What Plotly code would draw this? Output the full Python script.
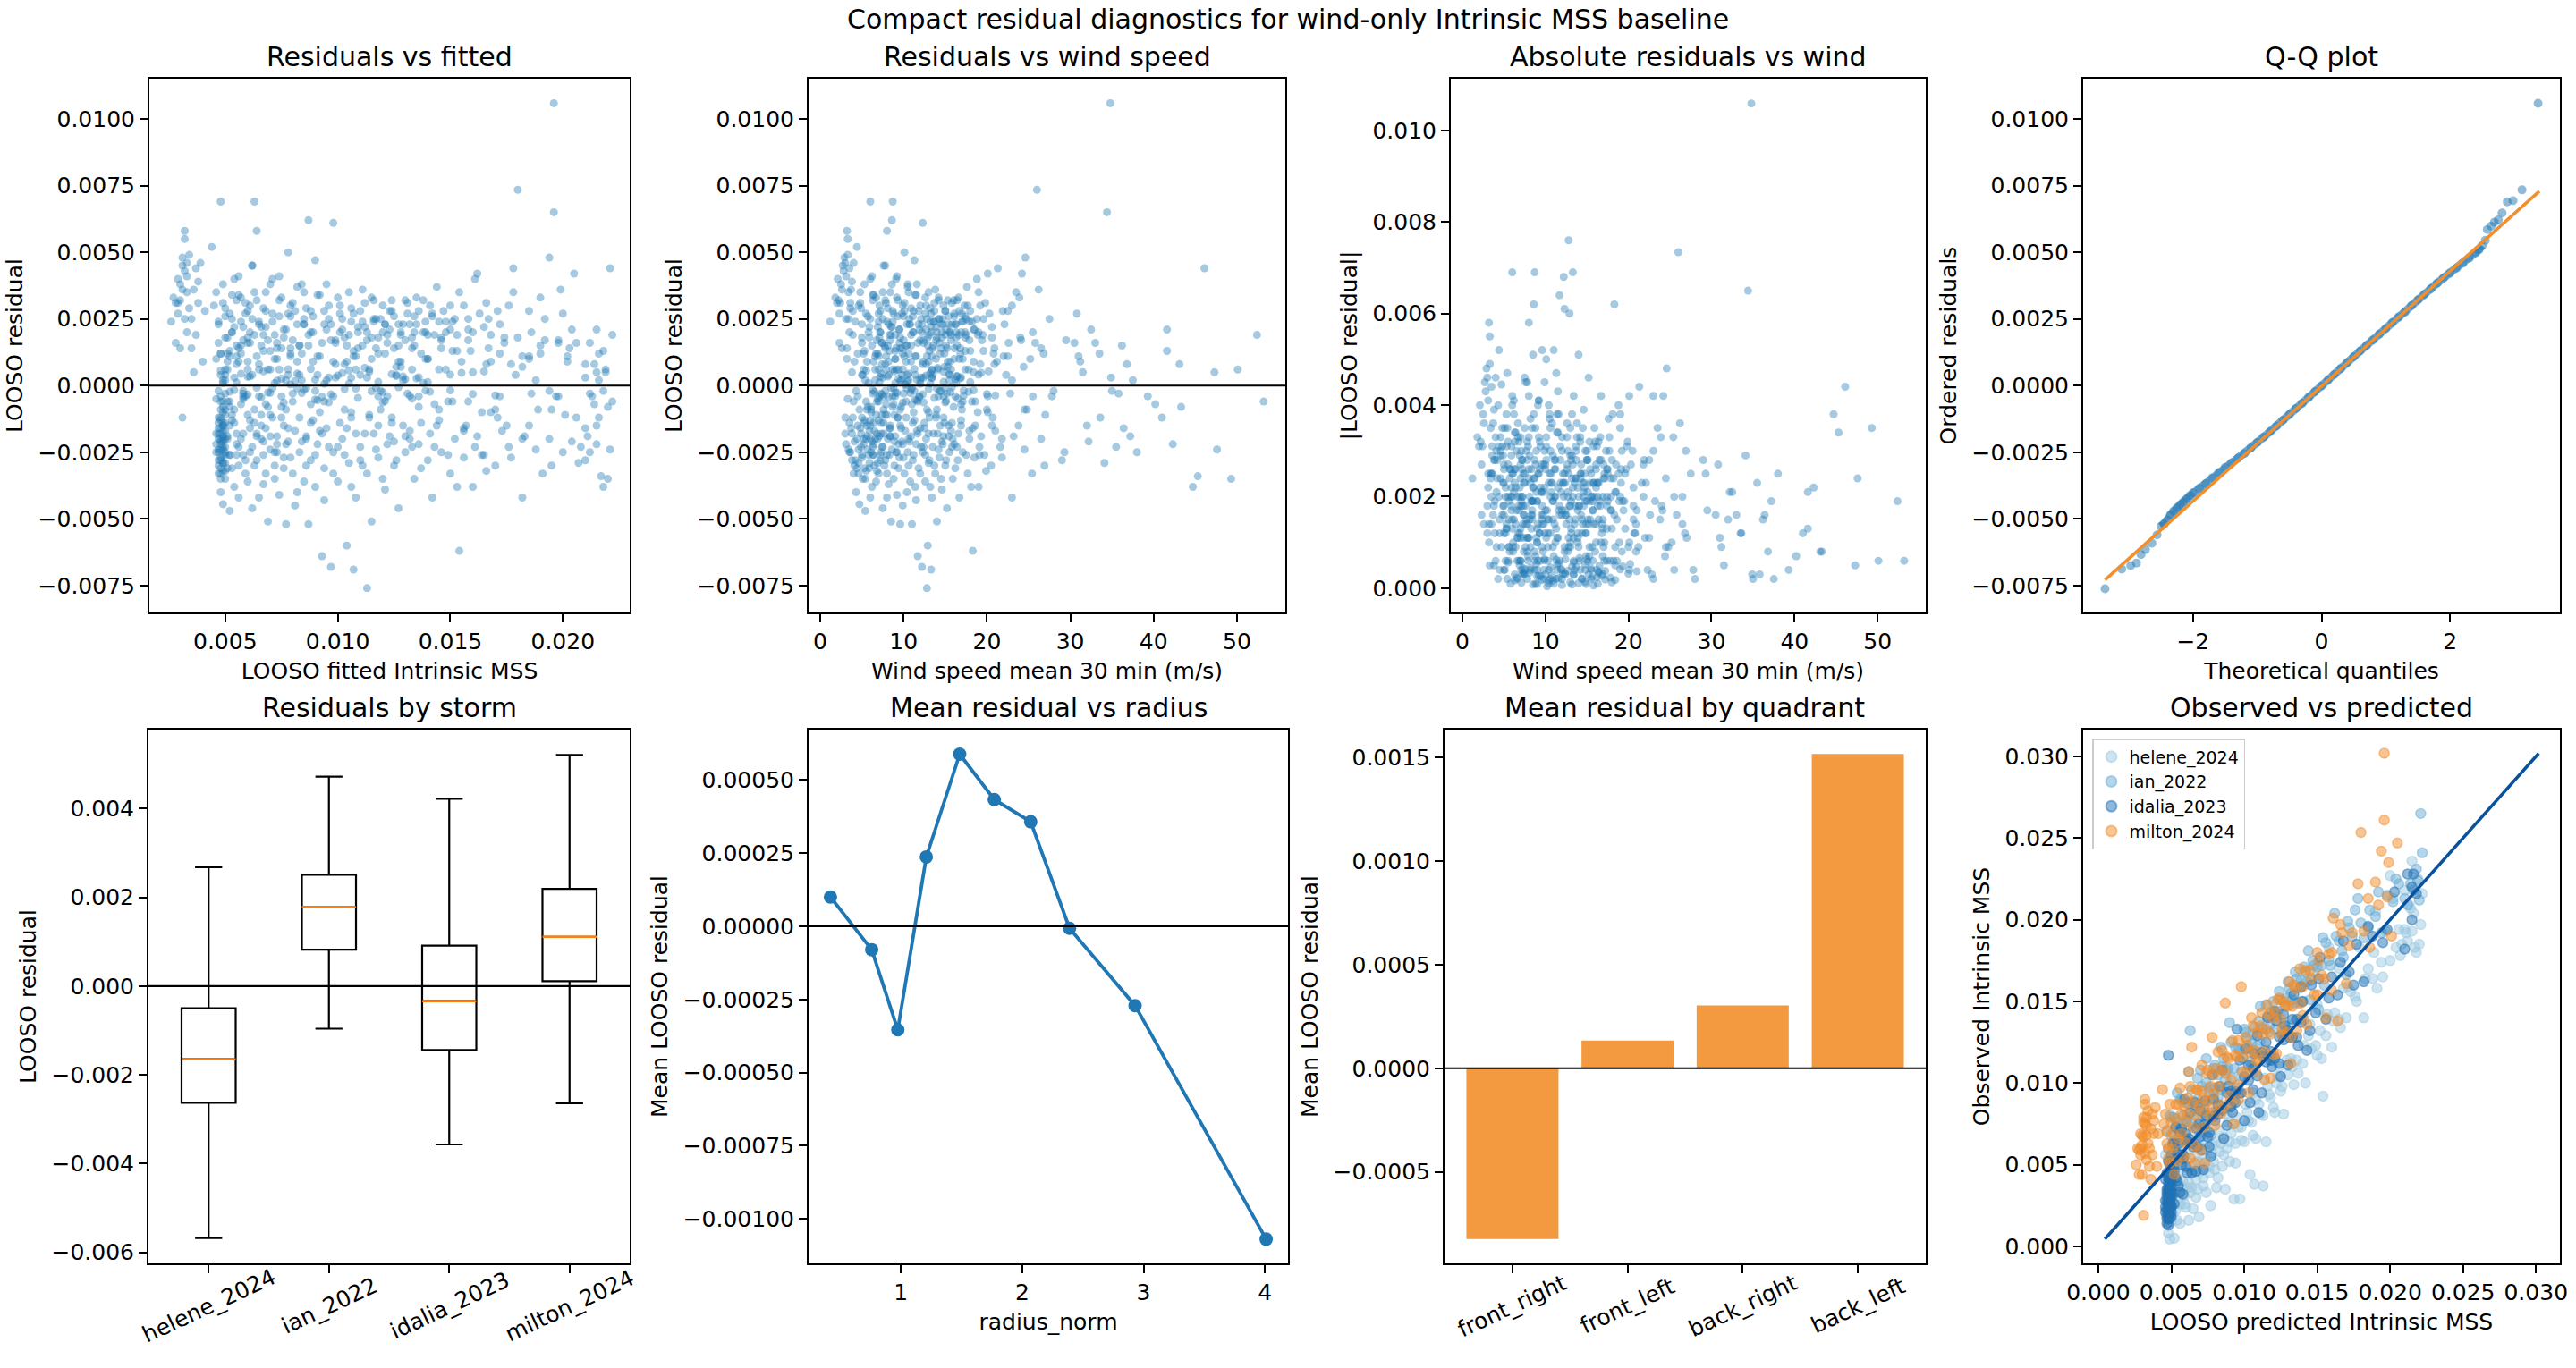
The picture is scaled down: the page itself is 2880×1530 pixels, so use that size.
import plotly.graph_objects as go

# ---------------- data ----------------
# per-storm points: (LOOSO fitted Intrinsic MSS x1e-4, LOOSO residual x1e-5, wind speed m/s)
helene_points = [
    (46,100,3.2),(47,-250,3.5),(47,-180,3.8),(48,-330,4.0),(48,-210,4.1),(48,-400,4.3),(49,-150,4.5),(49,-290,4.6),
    (49,-445,4.7),(50,-230,4.9),(50,-350,5.1),(50,40,5.0),(51,-310,5.3),(51,-200,5.5),(52,-470,5.4),(52,-260,5.8),
    (53,-130,6.0),(54,-380,6.2),(55,-220,6.4),(56,-300,6.5),
    (58,-180,6.8),(59,-330,7.0),(60,180,7.1),(61,-250,7.3),(62,-460,7.5),(63,-140,7.6),(64,-280,7.8),(65,60,7.9),
    (66,-200,8.1),(67,-370,8.2),(68,-160,8.4),(69,-510,8.5),(70,-240,8.6),(71,-10,8.8),(72,-300,8.9),(73,-190,9.0),
    (74,-410,9.2),(75,-120,9.3),(76,-270,9.5),(77,-520,9.6),(78,-210,9.8),(79,120,9.9),(80,-330,10.1),(81,-170,10.2),
    (82,-400,10.4),(83,-250,10.5),(84,20,10.6),(85,-360,10.8),(86,-190,10.9),(87,-520,11.0),(88,-280,11.1),(89,-130,11.3),
    (90,-380,11.4),(91,-220,11.5),(93,-640,11.7),(94,-310,11.8),(95,-160,12.0),(97,-680,12.2),(98,-250,12.3),(99,30,12.4),
    (100,-360,12.6),(102,-200,12.7),(104,-600,12.9),(105,-290,13.0),(106,-120,13.1),(107,-690,13.3),(108,-420,13.4),
    (110,-230,13.5),(111,150,13.6),(113,-760,12.8),(113,-330,13.8),(115,-510,14.0),(116,-180,14.1),(118,-270,14.3),
    (119,-20,14.4),(121,-390,14.6),(122,-220,14.7),(124,-140,14.9),(125,-300,15.0),(127,-460,15.2),(128,90,15.3),
    (130,-250,15.5),(132,-170,15.7),(134,-350,15.9),(136,-220,16.1),(138,10,16.3),(140,-280,16.5),(142,-420,16.7),
    (144,-150,16.9),(146,-250,17.1),(148,200,17.4),(150,-330,17.7),(152,-200,17.9),(154,-620,18.3),(156,-270,18.5),
    (158,250,18.8),(160,-380,19.0),(162,-190,19.3),(165,-260,19.7),(168,-100,20.1),(170,-300,20.5),(173,-170,21.0),
    (176,-230,21.6),(179,40,22.3),(182,-420,23.0),(185,-150,23.8),(188,-240,24.5),(191,-330,25.4),(194,-200,26.5),
    (197,-40,27.8),(200,-250,29.3),(202,110,31.0),(204,-210,32.2),(206,-120,33.6),(208,-230,35.5),(210,-160,36.4),
    (212,-250,38.0),(214,-70,40.2),(215,-220,42.3),(217,-340,45.3),(218,-380,44.7),(219,60,50.1),(220,-350,49.3),
    (221,-240,47.6),(190,150,36.2),(210,80,43.1),(200,270,30.8),(215,210,41.6),(222,-60,53.2),
    (52,-150,5.6),(53,-310,5.9),(54,-90,6.1),(55,-260,6.3),(56,-420,6.0),(57,-200,6.6),(58,-50,6.9),(59,-280,7.2),
    (60,-360,6.7),(61,-130,7.0),(62,-230,7.4),(63,-300,7.7),(64,-180,7.3),(65,-420,8.0),(66,-110,7.8),(67,-260,8.3),
    (68,-330,8.0),(69,-80,8.7),(70,-190,8.4),(72,-350,8.8),(73,-250,9.1),(75,-40,9.0),(76,-310,9.4),(78,-160,9.7),
    (79,-270,10.0),(81,-450,9.9),(83,-120,10.3),(84,-210,10.7),(86,-300,10.6),(88,-70,11.0),(90,-260,11.2),
    (92,-170,11.6),(94,-430,11.5),(96,-230,12.1),(98,-330,12.0),(101,-140,12.5),(103,-260,12.6),(106,-380,13.2),
    (108,-180,13.0),(111,-300,13.7),(114,-110,13.9),(117,-240,14.2),(120,-350,14.5),(123,-190,14.8),(126,-280,15.1),
    (129,-150,15.4),(133,-230,15.8),(137,-310,16.2),(141,-180,16.6),(145,-90,17.0),(149,-260,17.5),(153,-380,18.1),
    (157,-150,18.6),(161,-230,19.1),(166,-320,19.9),(171,-120,20.7),(177,-270,21.8),(183,-190,23.2),(189,-90,24.8),
    (195,-300,26.9),(211,-190,37.2),(216,-120,41.0),(207,-290,34.1),(213,-40,39.3),
    (60,-34,7.4),(75,26,9.4),(90,-52,11.4),(105,8,13.2),(120,-63,15.0),(135,27,16.8),(150,-18,18.4),(165,53,20.2),
]
ian_points = [
    (47,240,4.2),(48,120,4.5),(49,310,4.8),(50,180,5.0),(51,60,5.2),(52,270,5.5),(53,200,5.8),(54,400,6.0),
    (55,150,6.2),(56,90,6.4),(57,330,6.7),(58,220,6.9),(59,-40,7.1),(60,280,7.2),(61,160,7.4),(62,450,7.6),
    (63,690,8.7),(64,110,7.9),(65,240,8.0),(67,190,8.3),(68,350,8.4),(70,60,8.7),(71,270,8.8),(73,140,9.1),
    (74,410,9.2),(76,210,9.5),(77,-90,9.6),(79,300,9.9),(80,170,10.0),(82,90,10.3),(84,380,10.5),(85,250,10.7),
    (87,150,10.9),(89,200,11.2),(90,470,11.3),(92,110,11.5),(94,280,11.8),(95,20,12.0),(97,230,12.2),(99,160,12.4),
    (100,330,12.6),(102,250,12.8),(104,90,13.0),(105,190,13.1),(107,270,13.3),(109,140,13.5),(111,360,13.8),
    (112,220,13.9),(114,60,14.1),(116,250,14.3),(118,180,14.6),(120,300,14.8),(121,120,14.9),(123,210,15.1),
    (125,260,15.4),(126,40,15.5),(128,190,15.7),(130,320,16.0),(132,230,16.2),(134,150,16.4),(136,280,16.7),
    (138,200,16.9),(140,100,17.1),(142,260,17.4),(144,370,17.6),(146,170,17.9),(148,240,18.2),(151,-60,18.6),
    (153,190,18.9),(156,300,19.2),(159,130,19.6),(162,420,20.1),(165,220,20.6),(168,90,21.2),(171,280,21.9),
    (174,160,22.6),(178,350,23.5),(182,70,24.4),(186,200,25.5),(190,120,26.8),(194,-20,28.0),(198,170,29.5),
    (202,90,31.2),(206,160,33.0),(210,30,34.9),(214,80,36.8),(218,130,41.6),(220,-80,43.3),(221,440,46.1),
    (222,190,52.4),(219,50,47.3),(216,20,37.5),
    (50,290,4.9),(52,130,5.3),(54,220,5.9),(56,340,6.3),(58,170,6.8),(60,60,7.0),(62,250,7.5),(64,320,7.8),
    (66,150,8.1),(68,220,8.5),(70,380,8.6),(72,100,9.0),(74,260,9.3),(76,180,9.6),(78,40,9.8),(80,310,10.1),
    (82,230,10.4),(84,120,10.6),(86,290,10.9),(88,200,11.1),(91,340,11.4),(93,160,11.7),(96,250,12.1),(98,90,12.3),
    (101,300,12.7),(103,180,12.9),(106,240,13.2),(108,110,13.4),(110,280,13.7),(113,200,14.0),(115,330,14.2),
    (117,140,14.5),(119,250,14.7),(122,190,15.0),(124,320,15.3),(127,90,15.6),(129,230,15.8),(131,270,16.1),
    (133,180,16.3),(135,330,16.6),(137,120,16.8),(139,240,17.0),(141,300,17.3),(143,190,17.5),(145,60,17.8),
    (147,280,18.0),(150,210,18.4),(154,350,19.0),(158,170,19.4),(163,270,20.3),(167,140,20.9),(172,230,22.1),
    (176,300,23.0),(180,180,24.0),(185,100,25.2),(192,250,27.5),(204,210,32.5),(212,-30,35.8),
    (57,44,7.3),(69,-26,9.0),(81,17,10.4),(93,-42,11.9),(105,57,13.4),(117,-9,14.9),(129,34,16.4),(141,-23,17.8),
    (155,48,19.3),(170,-37,21.0),
]
idalia_points = [
    (46,-180,3.0),(46,-50,3.3),(46,-250,3.6),(47,-120,3.9),(47,-300,4.1),(47,-20,4.3),(47,-200,4.4),(47,-330,4.6),
    (48,-90,4.7),(48,-160,4.8),(48,-270,5.0),(48,40,5.1),(48,-220,5.2),(48,-130,5.3),(48,-350,5.4),(49,-60,5.5),
    (49,-190,5.6),(49,-240,5.7),(49,10,5.8),(49,-290,5.9),(49,-150,6.0),(49,-100,6.1),(49,-210,6.2),(50,-30,6.3),
    (50,-260,6.4),(50,-170,6.5),(50,60,6.6),(50,-110,6.7),(50,-320,6.8),(50,-200,6.9),(47,-240,3.4),(48,-280,4.2),
    (48,-180,4.9),(49,-140,5.3),(49,-230,6.3),(50,-90,5.6),(48,-40,4.5),(47,-160,3.7),(49,-260,5.0),(48,-200,6.0),
    (48,690,6.0),
    (51,120,6.9),(52,-60,7.0),(53,200,7.2),(54,-140,7.3),(55,80,7.4),(56,-230,7.5),(57,150,7.7),(58,-20,7.8),
    (59,310,7.9),(60,-110,8.0),(62,40,8.2),(64,-190,8.4),(66,220,8.6),(68,-70,8.8),(70,130,9.0),(72,-250,9.2),
    (74,60,9.4),(76,-150,9.6),(78,270,9.8),(80,-30,10.0),(83,150,10.3),(86,-200,10.6),(89,90,10.9),(92,-100,11.2),
    (95,380,11.6),(98,-40,11.9),(101,200,12.2),(104,-160,12.5),(107,110,12.8),(110,-280,13.1),(113,30,13.4),
    (116,240,13.7),(119,-90,14.0),(122,160,14.3),(125,-210,14.6),(128,70,14.9),(131,-30,15.2),(134,200,15.5),
    (137,-140,15.8),(140,100,16.1),(143,-230,16.4),(146,140,16.8),(149,-60,17.1),(152,250,17.5),(156,-170,17.9),
    (160,50,18.4),(164,-100,18.9),(168,190,19.5),(172,-40,20.1),(177,80,20.9),(182,-200,21.8),(188,20,23.0),
    (195,-90,24.5),(203,140,26.5),(210,-280,29.0),(215,50,31.5),(216,120,33.5),(218,-20,35.0),
    (46,-220,3.1),(47,-140,3.5),(47,-280,3.8),(48,-60,4.0),(48,-310,4.4),(48,-240,4.6),(48,-120,5.0),(49,-200,5.2),
    (49,-320,5.5),(49,-80,5.7),(49,-170,5.9),(50,-250,6.1),(50,-140,6.4),(50,20,6.6),(50,-290,6.9),(51,-190,7.1),
    (51,-60,6.8),(52,-260,7.2),(52,110,7.0),(53,-110,7.4),(54,30,7.5),(55,-180,7.6),(56,140,7.8),(57,-70,7.9),
    (58,-260,8.0),(60,90,8.2),(61,-160,8.3),(63,190,8.5),(65,-40,8.7),(67,-210,8.9),(69,60,9.1),(71,-120,9.3),
    (73,160,9.5),(75,-80,9.7),(77,-220,9.9),(79,110,10.1),(82,-10,10.4),(85,230,10.8),(88,-140,11.1),(91,40,11.4),
    (94,-60,11.7),(97,170,12.0),(100,-230,12.4),(103,80,12.7),(106,-100,13.0),(109,200,13.3),(112,-180,13.6),
    (115,100,13.9),(118,-40,14.2),(121,230,14.5),(124,-120,14.8),(127,150,15.1),(130,-190,15.4),(133,60,15.7),
    (136,-80,16.0),(139,200,16.3),(145,-130,16.9),(151,130,17.4),(158,-60,18.2),(166,80,19.2),(175,-150,20.6),
    (185,110,22.5),(198,-40,25.5),(212,160,30.5),(215,-150,32.0),
    (52,-23,6.5),(55,12,7.1),(58,-41,7.6),(61,34,8.1),(64,-8,8.5),(67,53,8.9),(70,-27,9.2),(73,18,9.6),
    (76,-64,9.9),(79,4,10.2),(82,45,10.6),(85,-16,10.9),(88,62,11.3),(91,-55,11.6),(94,7,12.0),(97,-33,12.3),
    (100,38,12.7),(103,-13,13.0),(106,29,13.4),(109,-46,13.7),(112,66,14.1),(115,-21,14.4),(118,14,14.8),
    (121,-58,15.1),(124,43,15.5),(127,-6,15.8),(130,24,16.2),(133,-49,16.5),(136,31,16.9),(139,-19,17.2),
]
milton_points = [
    (26,240,1.2),(27,330,1.8),(28,310,2.0),(28,160,2.3),(29,400,2.1),(29,310,2.4),(30,320,2.2),(30,140,2.6),
    (30,380,2.5),(31,450,2.7),(31,480,2.9),(31,-120,3.0),(32,430,2.8),(32,250,3.1),(32,580,3.2),(32,550,3.3),
    (33,460,3.0),(33,350,3.4),(33,200,3.5),(34,490,3.3),(34,290,3.6),(35,140,3.2),(36,360,3.7),(36,50,3.8),
    (37,440,3.5),(37,190,3.9),(38,310,3.6),(39,460,4.0),(40,90,4.1),(41,280,3.9),
    (44,520,4.4),(46,350,4.8),(47,230,5.0),(48,120,5.2),(49,20,5.4),(50,260,5.7),(51,180,5.9),(52,-80,6.1),
    (53,340,6.4),(55,110,6.6),(56,410,6.2),(57,240,7.0),(58,-30,7.3),(60,160,7.4),(61,300,7.1),(62,450,7.8),
    (63,-90,7.6),(64,580,8.0),(65,230,8.2),(66,-150,8.4),(67,130,8.3),(68,280,8.7),(70,-110,8.9),(71,400,9.1),
    (72,190,9.0),(73,-220,9.4),(74,320,9.3),(75,140,9.6),(77,20,9.8),(78,500,10.1),(79,260,10.0),(80,-60,10.3),
    (82,370,10.5),(83,150,10.4),(85,230,10.7),(86,-10,11.0),(87,620,8.6),(88,280,11.2),(90,-20,11.3),(92,340,11.5),
    (93,-180,11.7),(95,210,11.9),(96,30,12.1),(98,610,12.3),(99,170,12.4),(101,270,12.6),(103,-90,12.8),(105,350,13.0),
    (107,130,13.1),(109,220,13.3),(110,40,13.5),(112,310,13.7),(114,-120,13.9),(115,180,14.0),(117,250,14.2),
    (118,-150,14.4),(120,200,14.6),(122,-40,14.8),(124,280,15.0),(125,140,15.2),(127,230,15.4),(129,20,15.5),
    (130,170,15.7),(132,-200,15.9),(134,260,16.1),(136,-40,16.2),(138,320,16.4),(140,190,16.6),(143,-70,16.9),
    (145,240,17.1),(148,60,17.4),(150,300,17.7),(153,130,18.0),(156,-160,18.3),(158,210,18.5),(161,400,18.8),
    (164,-260,19.1),(167,250,19.6),(170,-90,20.0),(174,180,20.6),(178,440,21.3),(180,734,26.0),(182,110,22.0),
    (186,-30,22.8),(190,330,23.9),(194,480,24.6),(196,1059,34.8),(196,650,34.4),(198,160,25.8),(201,-110,27.0),
    (205,420,24.2),
    (29,270,2.3),(31,360,2.6),(33,410,3.1),(35,250,3.4),(38,390,3.8),(45,300,4.6),(47,160,5.0),(49,380,5.3),
    (51,90,5.6),(53,250,6.0),(55,320,6.3),(57,120,6.7),(59,270,7.0),(61,200,7.2),(63,350,7.5),(65,80,7.8),
    (67,290,8.1),(69,170,8.4),(71,240,8.7),(73,100,9.0),(75,330,9.2),(77,210,9.5),(79,140,9.8),(81,280,10.1),
    (83,40,10.4),(85,350,10.6),(87,190,10.9),(89,260,11.1),(91,110,11.4),(94,230,11.8),(96,300,12.0),(99,80,12.3),
    (102,210,12.7),(104,150,12.9),(106,290,13.2),(108,60,13.4),(111,240,13.6),(113,170,13.9),(116,320,14.2),
    (118,120,14.4),(121,230,14.7),(123,280,15.0),(126,70,15.3),(128,200,15.6),(131,310,15.8),(133,140,16.1),
    (135,230,16.3),(139,100,16.7),(142,270,17.0),(146,180,17.4),(151,240,17.9),(155,90,18.4),(160,200,19.0),
    (166,310,19.8),(172,120,20.8),(185,280,22.5),(192,170,24.1),(199,360,26.2),
    (48,56,5.5),(54,-17,6.3),(60,33,7.2),(66,-44,8.2),(72,9,9.0),(78,61,9.9),(84,-28,10.8),(90,22,11.6),
    (96,-63,12.4),(102,47,13.2),(108,-11,14.0),(114,52,14.8),(120,-24,15.6),(126,36,16.4),(132,-38,17.2),
    (140,13,18.0),(150,41,19.0),(160,-32,20.0),
]

storm_names = ["helene_2024", "ian_2022", "idalia_2023", "milton_2024"]
storm_colors = ["#9ecae1", "#6baed6", "#2171b5", "#f28e2b"]

# Q-Q plot (theoretical quantile, ordered residual x1e-5)
qq_theoretical = [-3.37,-3.11,-2.97,-2.88,-2.81,-2.74,-2.64,-2.56,-2.50,-2.45,-2.40,-2.35,-2.30,-2.25,-2.20,-2.15,
                  -2.10,-2.05,-2.0,-1.9,-1.8,-1.7,-1.6,-1.5,-1.4,-1.3,-1.2,-1.1,-1.0,-0.9,-0.8,-0.7,-0.6,-0.5,-0.4,
                  -0.3,-0.2,-0.1,0.0,0.1,0.2,0.3,0.4,0.5,0.6,0.7,0.8,0.9,1.0,1.1,1.2,1.3,1.4,1.5,1.6,1.7,1.8,1.9,
                  2.0,2.1,2.2,2.3,2.4,2.45,2.50,2.55,2.58,2.64,2.69,2.75,2.81,2.89,2.98,3.12,3.37]
qq_ordered_e5 = [-762,-688,-675,-666,-634,-615,-591,-560,-528,-520,-505,-485,-470,-458,-447,-437,
                 -425,-413,-402,-385,-367,-346,-326,-307,-290,-272,-255,-234,-213,-193,-173,-152,-130,-108,-86,
                 -66,-44,-22,-2,20,42,64,86,108,130,150,171,193,214,236,257,276,300,322,342,363,384,404,
                 422,440,459,478,498,510,525,545,585,598,613,621,647,689,693,734,1059]
qq_line_x = [-3.37, 3.39]
qq_line_y = [-0.00729, 0.00729]

# box plot statistics per storm (no fliers)
box_lower = [-0.00568, -0.00096, -0.00357, -0.00264]
box_q1 = [-0.00263, 0.00082, -0.00144, 0.00011]
box_median = [-0.00165, 0.00178, -0.00034, 0.00111]
box_q3 = [-0.00050, 0.00251, 0.00091, 0.00219]
box_upper = [0.00268, 0.00472, 0.00422, 0.00521]

# mean residual vs radius
radius_norm = [0.42, 0.76, 0.975, 1.21, 1.485, 1.77, 2.07, 2.39, 2.93, 4.01]
radius_mean_resid = [0.000100, -0.000080, -0.000354, 0.000237, 0.000588, 0.000433, 0.000357, -0.000007, -0.000271, -0.001069]

# mean residual by quadrant
quadrants = ["front_right", "front_left", "back_right", "back_left"]
quadrant_mean_resid = [-0.000824, 0.000134, 0.000303, 0.001516]

# tick labels
ticks_resid = [-0.0075, -0.005, -0.0025, 0.0, 0.0025, 0.005, 0.0075, 0.01]
ticks_resid_txt = ["−0.0075", "−0.0050", "−0.0025", "0.0000", "0.0025", "0.0050", "0.0075", "0.0100"]
ticks_fit = [0.005, 0.010, 0.015, 0.020]
ticks_fit_txt = ["0.005", "0.010", "0.015", "0.020"]
ticks_wind = [0, 10, 20, 30, 40, 50]
ticks_wind_txt = ["0", "10", "20", "30", "40", "50"]
ticks_abs = [0.0, 0.002, 0.004, 0.006, 0.008, 0.010]
ticks_abs_txt = ["0.000", "0.002", "0.004", "0.006", "0.008", "0.010"]
ticks_qq = [-2, 0, 2]
ticks_qq_txt = ["−2", "0", "2"]
ticks_box = [-0.006, -0.004, -0.002, 0.0, 0.002, 0.004]
ticks_box_txt = ["−0.006", "−0.004", "−0.002", "0.000", "0.002", "0.004"]
ticks_rad_x = [1, 2, 3, 4]
ticks_rad_x_txt = ["1", "2", "3", "4"]
ticks_rad_y = [-0.001, -0.00075, -0.0005, -0.00025, 0.0, 0.00025, 0.0005]
ticks_rad_y_txt = ["−0.00100", "−0.00075", "−0.00050", "−0.00025", "0.00000", "0.00025", "0.00050"]
ticks_bar = [-0.0005, 0.0, 0.0005, 0.001, 0.0015]
ticks_bar_txt = ["−0.0005", "0.0000", "0.0005", "0.0010", "0.0015"]
ticks_obs = [0.0, 0.005, 0.010, 0.015, 0.020, 0.025, 0.030]
ticks_obs_txt = ["0.000", "0.005", "0.010", "0.015", "0.020", "0.025", "0.030"]

# ---------------- derived ----------------
def unpack(points):
    return ([p[0] * 1e-4 for p in points], [p[1] * 1e-5 for p in points], [p[2] for p in points])

storm_points = [helene_points, ian_points, idalia_points, milton_points]
per_storm = [unpack(p) for p in storm_points]
all_fitted, all_resid, all_wind = [], [], []
for f, r, w in per_storm:
    all_fitted += f
    all_resid += r
    all_wind += w
abs_resid = [abs(v) for v in all_resid]
observed = [[fi + ri for fi, ri in zip(f, r)] for f, r, w in per_storm]
qq_ordered = [v * 1e-5 for v in qq_ordered_e5]
qq_body = [(q, v) for q, v in zip(qq_theoretical, qq_ordered) if abs(q) <= 2.5]
all_obs = [v for o in observed for v in o]
line_lo = min(min(all_obs), min(all_fitted))
line_hi = max(max(all_obs), max(all_fitted))

# ---------------- layout helpers ----------------
W, H = 2880, 1530
FONT = "DejaVu Sans"
BLUE = "#1f77b4"


def dx(a, b):
    return [a / W, b / W]


def dy(top, bottom):
    return [1 - bottom / H, 1 - top / H]


ROW1 = dy(88, 685)
ROW2 = dy(816, 1413)
XD = [dx(167, 704), dx(904, 1437), dx(1622, 2153), dx(2329, 2862),
      dx(166, 704), dx(904, 1440), dx(1615, 2153), dx(2329, 2862)]
YD = [ROW1] * 4 + [ROW2] * 4


def axis(domain, anchor, rng, tv, tt, title=None):
    d = dict(domain=domain, anchor=anchor, range=rng, tickmode="array", tickvals=tv, ticktext=tt,
             showline=True, mirror=True, linecolor="black", linewidth=2, ticks="outside", ticklen=9,
             tickwidth=2, tickcolor="black", showgrid=False, zeroline=False, automargin=False,
             tickfont=dict(size=25, color="black", family=FONT))
    if title:
        d["title"] = dict(text=title, font=dict(size=25, color="black", family=FONT), standoff=10)
    return d


fig = go.Figure()
scat = dict(mode="markers", marker=dict(size=9, color="rgba(31,119,180,0.4)", line=dict(width=0)),
            showlegend=False, hoverinfo="skip")

# 1 residuals vs fitted
fig.add_trace(go.Scatter(x=all_fitted, y=all_resid, xaxis="x", yaxis="y", **scat))
# 2 residuals vs wind
fig.add_trace(go.Scatter(x=all_wind, y=all_resid, xaxis="x2", yaxis="y2", **scat))
# 3 abs residuals vs wind
fig.add_trace(go.Scatter(x=all_wind, y=abs_resid, xaxis="x3", yaxis="y3", **scat))
# 4 Q-Q: dense body drawn as a thick band through the points, tails as single points
fig.add_trace(go.Scatter(x=[q for q, v in qq_body], y=[v for q, v in qq_body], xaxis="x4", yaxis="y4",
                         mode="lines", line=dict(color="rgba(31,119,180,0.6)", width=9),
                         showlegend=False, hoverinfo="skip"))
fig.add_trace(go.Scatter(x=qq_theoretical, y=qq_ordered, xaxis="x4", yaxis="y4", mode="markers",
                         marker=dict(size=10, color="rgba(31,119,180,0.5)", line=dict(width=0)),
                         showlegend=False, hoverinfo="skip"))
fig.add_trace(go.Scatter(x=qq_line_x, y=qq_line_y, xaxis="x4", yaxis="y4", mode="lines",
                         line=dict(color="#f28e2b", width=3.5), showlegend=False, hoverinfo="skip"))
# 5 box plot
box_pos = [1, 2, 3, 4]
fig.add_trace(go.Box(x=box_pos, q1=box_q1, median=box_median, q3=box_q3, lowerfence=box_lower,
                     upperfence=box_upper, width=0.45, whiskerwidth=0.5, boxpoints=False,
                     line=dict(color="black", width=2.2), fillcolor="rgba(0,0,0,0)",
                     xaxis="x5", yaxis="y5", showlegend=False, hoverinfo="skip"))
mx, my = [], []
for p, m in zip(box_pos, box_median):
    mx += [p - 0.225, p + 0.225, None]
    my += [m, m, None]
fig.add_trace(go.Scatter(x=mx, y=my, xaxis="x5", yaxis="y5", mode="lines",
                         line=dict(color="#ff7f0e", width=2.6), showlegend=False, hoverinfo="skip"))
# 6 mean residual vs radius
fig.add_trace(go.Scatter(x=radius_norm, y=radius_mean_resid, xaxis="x6", yaxis="y6", mode="lines+markers",
                         line=dict(color=BLUE, width=3.8), marker=dict(size=15, color=BLUE),
                         showlegend=False, hoverinfo="skip"))
# 7 bars
quad_pos = list(range(len(quadrants)))
fig.add_trace(go.Bar(x=quad_pos, y=quadrant_mean_resid, width=0.8,
                     marker=dict(color="rgba(242,142,43,0.9)", line=dict(width=0)),
                     xaxis="x7", yaxis="y7", showlegend=False, hoverinfo="skip"))
# 8 observed vs predicted
for (f, r, w), obs, name, col in zip(per_storm, observed, storm_names, storm_colors):
    h = col.lstrip("#")
    rgb = tuple(int(h[i:i + 2], 16) for i in (0, 2, 4))
    rgba = "rgba(%d,%d,%d,0.5)" % rgb
    fig.add_trace(go.Scatter(x=f, y=obs, xaxis="x8", yaxis="y8", mode="markers", name=name,
                             marker=dict(size=11, color=rgba, line=dict(color=rgba, width=1.5)),
                             hoverinfo="skip"))
fig.add_trace(go.Scatter(x=[line_lo, line_hi], y=[line_lo, line_hi], xaxis="x8", yaxis="y8", mode="lines",
                         line=dict(color="#08519c", width=3.5), showlegend=False, hoverinfo="skip"))

# axes
layout = dict(
    xaxis=axis(XD[0], "y", [0.00163, 0.02297], ticks_fit, ticks_fit_txt, "LOOSO fitted Intrinsic MSS"),
    yaxis=axis(YD[0], "x", [-0.00851, 0.01151], ticks_resid, ticks_resid_txt, "LOOSO residual"),
    xaxis2=axis(XD[1], "y2", [-1.4, 55.8], ticks_wind, ticks_wind_txt, "Wind speed mean 30 min (m/s)"),
    yaxis2=axis(YD[1], "x2", [-0.00851, 0.01151], ticks_resid, ticks_resid_txt, "LOOSO residual"),
    xaxis3=axis(XD[2], "y3", [-1.4, 55.8], ticks_wind, ticks_wind_txt, "Wind speed mean 30 min (m/s)"),
    yaxis3=axis(YD[2], "x3", [-0.00053, 0.01113], ticks_abs, ticks_abs_txt, "|LOOSO residual|"),
    xaxis4=axis(XD[3], "y4", [-3.71, 3.71], ticks_qq, ticks_qq_txt, "Theoretical quantiles"),
    yaxis4=axis(YD[3], "x4", [-0.00851, 0.01151], ticks_resid, ticks_resid_txt, "Ordered residuals"),
    xaxis5=axis(XD[4], "y5", [0.5, 4.5], box_pos, [""] * len(box_pos)),
    yaxis5=axis(YD[4], "x5", [-0.00625, 0.00578], ticks_box, ticks_box_txt, "LOOSO residual"),
    xaxis6=axis(XD[5], "y6", [0.24, 4.19], ticks_rad_x, ticks_rad_x_txt, "radius_norm"),
    yaxis6=axis(YD[5], "x6", [-0.001152, 0.000672], ticks_rad_y, ticks_rad_y_txt, "Mean LOOSO residual"),
    xaxis7=axis(XD[6], "y7", [-0.59, 3.59], quad_pos, [""] * len(quad_pos)),
    yaxis7=axis(YD[6], "x7", [-0.000941, 0.001633], ticks_bar, ticks_bar_txt, "Mean LOOSO residual"),
    xaxis8=axis(XD[7], "y8", [-0.00104, 0.03164], ticks_obs, ticks_obs_txt, "LOOSO predicted Intrinsic MSS"),
    yaxis8=axis(YD[7], "x8", [-0.00104, 0.03164], ticks_obs, ticks_obs_txt, "Observed Intrinsic MSS"),
)

titles = ["Residuals vs fitted", "Residuals vs wind speed", "Absolute residuals vs wind", "Q-Q plot",
          "Residuals by storm", "Mean residual vs radius", "Mean residual by quadrant", "Observed vs predicted"]
annotations = []
for t, xd, yd in zip(titles, XD, YD):
    annotations.append(dict(text=t, x=(xd[0] + xd[1]) / 2, y=yd[1], xref="paper", yref="paper",
                            xanchor="center", yanchor="middle", yshift=25, showarrow=False,
                            font=dict(size=30, color="black", family=FONT)))
annotations.append(dict(text="Compact residual diagnostics for wind-only Intrinsic MSS baseline",
                        x=0.5, y=1 - 22 / H, xref="paper", yref="paper", xanchor="center", yanchor="middle",
                        showarrow=False, font=dict(size=30, color="black", family=FONT)))
# rotated category labels, centred under their ticks
for xref, positions, labels in (("x5", box_pos, storm_names), ("x7", quad_pos, quadrants)):
    for p, lab in zip(positions, labels):
        annotations.append(dict(text=lab, x=p, xref=xref, y=ROW2[0], yref="paper", yshift=-47,
                                xanchor="center", yanchor="middle", textangle=-25, showarrow=False,
                                font=dict(size=25, color="black", family=FONT)))

shapes = []
for k in ["", "2", "5", "6", "7"]:
    shapes.append(dict(type="line", xref="x%s domain" % k, yref="y%s" % k, x0=0, x1=1, y0=0, y1=0,
                       line=dict(color="black", width=2.2), layer="above"))

fig.update_layout(
    width=W, height=H, margin=dict(l=0, r=0, t=0, b=0),
    paper_bgcolor="white", plot_bgcolor="white",
    font=dict(family=FONT, color="black"),
    annotations=annotations, shapes=shapes, bargap=0.2,
    legend=dict(x=XD[7][0] + 10 / W, y=YD[7][1] - 10 / H, xanchor="left", yanchor="top",
                bgcolor="rgba(255,255,255,0.8)", bordercolor="#cccccc", borderwidth=1.5,
                font=dict(size=19, color="black", family=FONT), tracegroupgap=0, itemsizing="constant"),
    **layout,
)

# remove the browser's default 8px page margin so the 2880x1530 figure fills the window exactly
fig.write_html("out.html", config={"displayModeBar": False},
               post_script="document.body.style.margin='0px';document.body.style.overflow='hidden';")
